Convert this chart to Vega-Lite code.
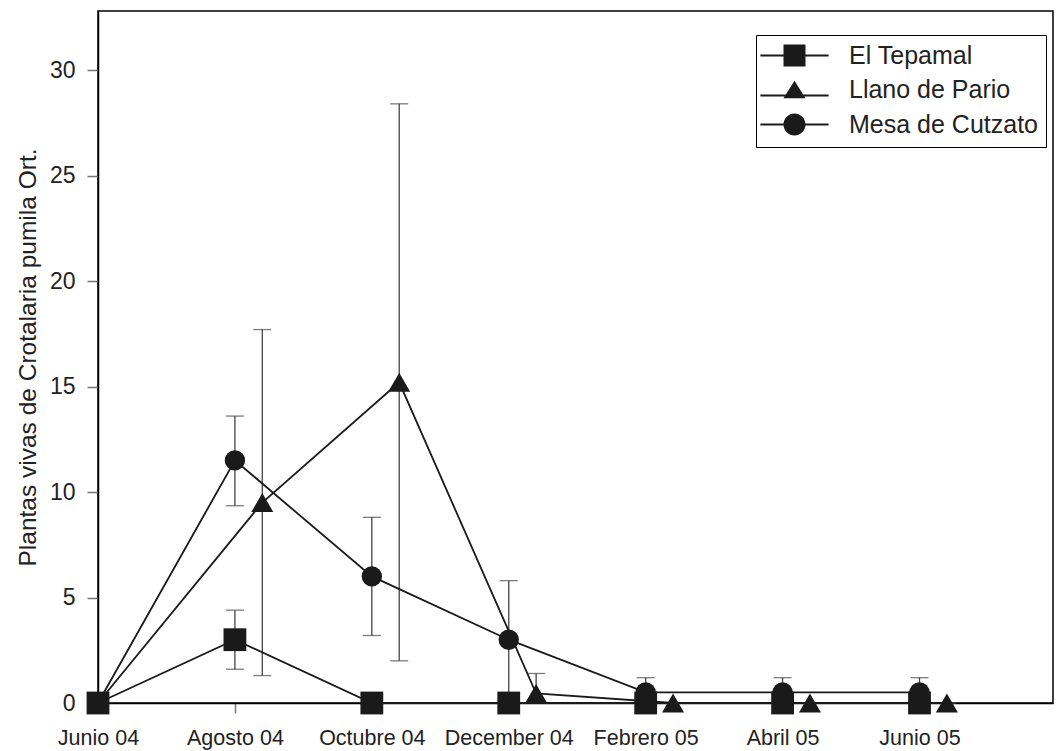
{
  "$schema": "https://vega.github.io/schema/vega-lite/v6.json",
  "width": 955,
  "height": 692,
  "autosize": {"type": "none"},
  "padding": {"left": 98, "top": 11, "right": 4, "bottom": 48},
  "background": "white",
  "config": {
    "font": "Liberation Sans",
    "view": {"stroke": "black", "strokeWidth": 1.5},
    "axis": {"grid": false, "domainColor": "black", "domainWidth": 1.5, "tickColor": "#777777", "tickWidth": 1.5, "labelColor": "#222222", "titleColor": "#222222", "labelFont": "Liberation Sans", "titleFont": "Liberation Sans", "titleFontWeight": "normal"}
  },
  "data": {
    "values": [
      {"site": "El Tepamal", "x": 0, "y": 0, "lo": 0, "hi": 0},
      {"site": "El Tepamal", "x": 1, "y": 3.0, "lo": 1.6, "hi": 4.4},
      {"site": "El Tepamal", "x": 2, "y": 0, "lo": 0, "hi": 0},
      {"site": "El Tepamal", "x": 3, "y": 0, "lo": 0, "hi": 0},
      {"site": "El Tepamal", "x": 4, "y": 0, "lo": 0, "hi": 0},
      {"site": "El Tepamal", "x": 5, "y": 0, "lo": 0, "hi": 0},
      {"site": "El Tepamal", "x": 6, "y": 0, "lo": 0, "hi": 0},
      {"site": "Llano de Pario", "x": 0, "y": 0, "lo": 0, "hi": 0},
      {"site": "Llano de Pario", "x": 1.2, "y": 9.5, "lo": 1.3, "hi": 17.7},
      {"site": "Llano de Pario", "x": 2.2, "y": 15.2, "lo": 2.0, "hi": 28.4},
      {"site": "Llano de Pario", "x": 3.2, "y": 0.45, "lo": 0, "hi": 1.4},
      {"site": "Llano de Pario", "x": 4.2, "y": 0, "lo": 0, "hi": 0},
      {"site": "Llano de Pario", "x": 5.2, "y": 0, "lo": 0, "hi": 0},
      {"site": "Llano de Pario", "x": 6.2, "y": 0, "lo": 0, "hi": 0},
      {"site": "Mesa de Cutzato", "x": 0, "y": 0, "lo": 0, "hi": 0},
      {"site": "Mesa de Cutzato", "x": 1, "y": 11.5, "lo": 9.35, "hi": 13.6},
      {"site": "Mesa de Cutzato", "x": 2, "y": 6.0, "lo": 3.2, "hi": 8.8},
      {"site": "Mesa de Cutzato", "x": 3, "y": 3.0, "lo": 0.2, "hi": 5.8},
      {"site": "Mesa de Cutzato", "x": 4, "y": 0.5, "lo": 0, "hi": 1.2},
      {"site": "Mesa de Cutzato", "x": 5, "y": 0.5, "lo": 0, "hi": 1.2},
      {"site": "Mesa de Cutzato", "x": 6, "y": 0.5, "lo": 0, "hi": 1.2}
    ]
  },
  "encoding": {
    "x": {
      "field": "x", "type": "quantitative",
      "scale": {"domain": [0, 6.975], "nice": false, "zero": false},
      "axis": {
        "title": null,
        "values": [0, 1, 2, 3, 4, 5, 6],
        "labelExpr": "['Junio 04','Agosto 04','Octubre 04','December 04','Febrero 05','Abril 05','Junio 05'][datum.value]",
        "labelFontSize": 21.5, "tickSize": 10, "labelPadding": 14, "labelFlush": false, "labelOverlap": false
      }
    },
    "y": {
      "field": "y", "type": "quantitative",
      "scale": {"domain": [0, 32.8], "nice": false},
      "axis": {
        "title": "Plantas vivas de Crotalaria pumila Ort.",
        "values": [0, 5, 10, 15, 20, 25, 30],
        "labelFontSize": 23, "tickSize": 11, "labelPadding": 12,
        "titleFontSize": 24.5, "titlePadding": 9
      }
    }
  },
  "layer": [
    {
      "mark": {"type": "rule", "color": "#444444", "strokeWidth": 1.3},
      "encoding": {"y": {"field": "lo", "type": "quantitative"}, "y2": {"field": "hi"}}
    },
    {
      "mark": {"type": "tick", "orient": "horizontal", "color": "#444444", "size": 18, "thickness": 1.3},
      "encoding": {"y": {"field": "hi", "type": "quantitative"}}
    },
    {
      "mark": {"type": "tick", "orient": "horizontal", "color": "#444444", "size": 18, "thickness": 1.3},
      "encoding": {"y": {"field": "lo", "type": "quantitative"}}
    },
    {
      "mark": {"type": "line", "color": "#1a1a1a", "strokeWidth": 1.8},
      "encoding": {"detail": {"field": "site"}, "order": {"field": "x"}}
    },
    {
      "transform": [{"filter": "datum.site === 'Mesa de Cutzato'"}],
      "mark": {"type": "point", "filled": true, "color": "#1a1a1a", "opacity": 1, "size": 415, "shape": "circle"}
    },
    {
      "transform": [{"filter": "datum.site === 'Llano de Pario'"}],
      "mark": {"type": "point", "filled": true, "color": "#1a1a1a", "opacity": 1, "size": 484, "shape": "triangle-up"}
    },
    {
      "transform": [{"filter": "datum.site === 'El Tepamal'"}],
      "mark": {"type": "point", "filled": true, "color": "#1a1a1a", "opacity": 1, "size": 520, "shape": "square"}
    },
    {
      "transform": [{"filter": "false"}],
      "mark": {"type": "point", "filled": true, "color": "#1a1a1a", "opacity": 1, "size": 484},
      "encoding": {
        "shape": {
          "field": "site", "type": "nominal",
          "scale": {"domain": ["El Tepamal", "Llano de Pario", "Mesa de Cutzato"], "range": ["M-3.1,-0.09H3.1V0.09H-3.1Z M-1,-1H1V1H-1Z", "M-3.1,0.46H3.1V0.64H-3.1Z M0,-0.8L1,0.8H-1Z", "M-3.1,-0.09H3.1V0.09H-3.1Z M1,0A1,1 0 1,1 -1,0A1,1 0 1,1 1,0Z"]},
          "legend": {
            "title": null,
            "orient": "none",
            "legendX": 658,
            "legendY": 24,
            "padding": 8,
            "strokeColor": "black",
            "fillColor": "white",
            "symbolSize": 484,
            "symbolFillColor": "#1a1a1a",
            "symbolOffset": 18,
            "labelOffset": 42,
            "labelFontSize": 25,
            "labelColor": "#222222",
            "labelFont": "Liberation Sans",
            "rowPadding": 7,
            "labelLimit": 400
          }
        }
      }
    }
  ]
}
